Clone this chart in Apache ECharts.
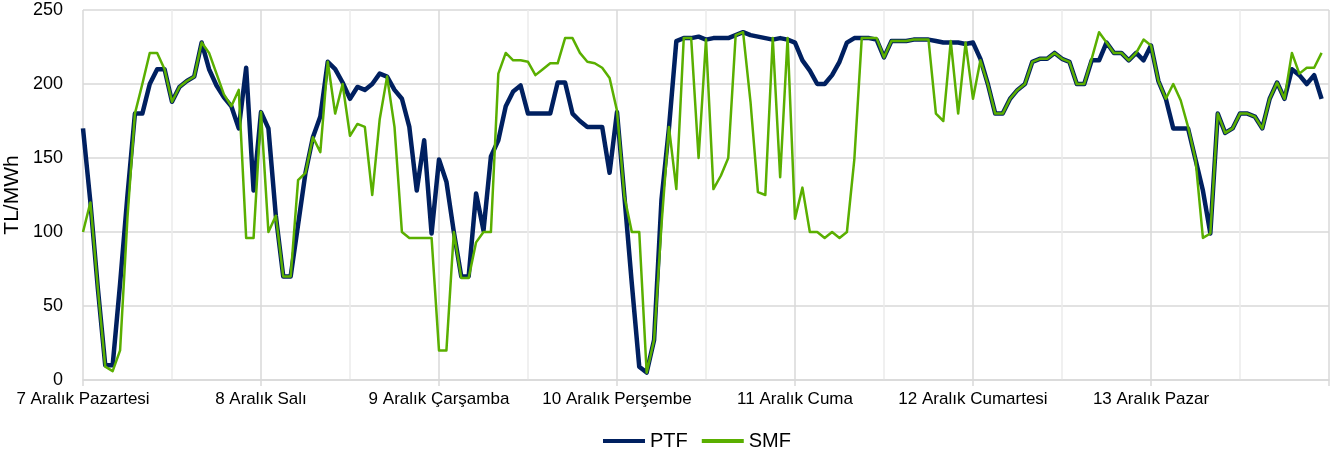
<!DOCTYPE html>
<html>
<head>
<meta charset="utf-8">
<script src="https://cdn.jsdelivr.net/npm/echarts@6/dist/echarts.min.js"></script>
<style>
html,body{margin:0;padding:0;background:#fff;}
#chart{width:1331px;height:456px;}
</style>
</head>
<body>
<div id="chart"></div>
<script>
// Day labels (one per 24 hours)
const dayLabels = ['7 Aralık Pazartesi','8 Aralık Salı','9 Aralık Çarşamba','10 Aralık Perşembe','11 Aralık Cuma','12 Aralık Cumartesi','13 Aralık Pazar'];
const seriesNames = ['PTF','SMF'];
const yTicks = [0,50,100,150,200,250];

// Hourly PTF (TL/MWh), 168 hours
const ptf = [
170,120,62,10,10,65,125,180,180,200,210,210,188,198,202,205,228,210,199,191,185,170,211,128,
181,170,111,70,70,105,140,164,178,215,210,201,190,198,196,200,207,205,196,190,171,128,162,99,
149,134,100,70,70,126,101,151,162,185,195,199,180,180,180,180,201,201,180,175,171,171,171,140,
181,124,65,9,5,27,122,170,229,231,231,232,230,231,231,231,233,235,233,232,231,230,231,230,
228,216,209,200,200,206,215,228,231,231,231,230,218,229,229,229,230,230,230,229,228,228,228,227,
228,217,200,180,180,190,196,200,215,217,217,221,217,215,200,200,216,216,228,221,221,216,221,216,
226,202,190,170,170,170,149,128,99,180,167,170,180,180,178,170,190,201,190,210,206,200,206,190
];

// Hourly SMF (TL/MWh), 168 hours
const smf = [
100,120,62,9,6,20,110,180,200,221,221,210,188,198,202,205,228,221,207,193,185,196,96,96,
181,100,111,70,70,135,140,164,154,215,180,200,165,173,171,125,176,205,171,100,96,96,96,96,
20,20,100,69,69,93,100,100,207,221,216,216,215,206,210,214,214,231,231,221,215,214,211,204,
182,124,100,100,5,27,105,171,129,231,231,150,230,129,138,150,233,235,188,127,125,231,137,231,
109,130,100,100,96,100,96,100,149,231,231,231,218,229,229,229,230,230,230,180,175,229,180,228,
190,216,200,180,180,190,196,200,215,217,217,221,217,215,200,200,217,235,228,221,221,216,221,230,
226,202,190,200,189,171,149,96,99,180,167,170,180,180,178,170,190,201,190,221,207,211,211,221
];

const toXY = arr => arr.map((v, i) => [i, v]);
const FONT = "'Liberation Sans', Arial, sans-serif";
const C_PTF = '#002060';
const C_SMF = '#5aaf00';

const chart = echarts.init(document.getElementById('chart'), null, {renderer: 'canvas'});
chart.setOption({
  animation: false,
  backgroundColor: '#ffffff',
  grid: {left: 83, right: 2, top: 10, bottom: 76, containLabel: false, outerBoundsMode: 'none'},
  legend: {
    data: [
      {name: seriesNames[0], icon: 'rect', itemStyle: {color: C_PTF}},
      {name: seriesNames[1], icon: 'rect', itemStyle: {color: C_SMF}}
    ],
    left: 598,
    top: 426,
    itemWidth: 42,
    itemHeight: 4,
    itemGap: 14,
    textStyle: {fontFamily: FONT, fontSize: 20, color: '#000'}
  },
  xAxis: {
    type: 'value',
    min: 0,
    max: 168,
    interval: 24,
    axisLine: {show: true, lineStyle: {color: '#d9d9d9', width: 1.5}},
    axisTick: {show: true, length: 6, lineStyle: {color: '#d9d9d9', width: 1.5}},
    axisLabel: {
      margin: 11,
      fontFamily: FONT,
      fontSize: 17,
      color: '#000',
      formatter: v => (v % 24 === 0 && v / 24 < dayLabels.length) ? dayLabels[v / 24] : ''
    },
    splitLine: {show: true, lineStyle: {color: '#d9d9d9', width: 1.5}},
    minorTick: {show: false, splitNumber: 2},
    minorSplitLine: {show: true, lineStyle: {color: '#ececec', width: 1.5}}
  },
  yAxis: {
    type: 'value',
    min: yTicks[0],
    max: yTicks[yTicks.length - 1],
    interval: 50,
    name: 'TL/MWh',
    nameLocation: 'middle',
    nameGap: 60,
    nameMoveOverlap: false,
    nameTextStyle: {fontFamily: FONT, fontSize: 21, color: '#000'},
    axisLine: {show: false},
    axisTick: {show: false},
    axisLabel: {margin: 20, fontFamily: FONT, fontSize: 18, color: '#000'},
    splitLine: {show: true, lineStyle: {color: '#d9d9d9', width: 1.5}}
  },
  series: [
    {
      name: 'PTF', type: 'line', data: toXY(ptf), symbol: 'none', showSymbol: false,
      lineStyle: {color: C_PTF, width: 4.5, join: 'round'}, itemStyle: {color: C_PTF}, z: 2
    },
    {
      name: 'SMF', type: 'line', data: toXY(smf), symbol: 'none', showSymbol: false,
      lineStyle: {color: C_SMF, width: 2.5, join: 'round'}, itemStyle: {color: C_SMF}, z: 3
    }
  ]
});
</script>
</body>
</html>
